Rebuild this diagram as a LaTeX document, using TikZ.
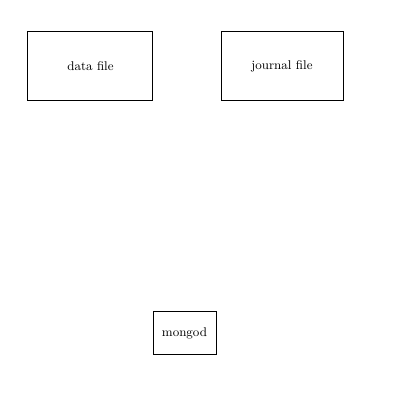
\documentclass[tikz,border=0pt]{standalone}
\usepackage{tikz}

\begin{document}
\begin{tikzpicture}
  \tikzstyle{file} = [rectangle, draw, fill=white, minimum height = 17.25mm, line width = 0.25mm, font=\small]
  \tikzstyle{process} = [rectangle, draw, fill=white, minimum height = 10.75mm, minimum width = 15.75mm, line width = 0.25mm, font=\small]

  \useasboundingbox (0,0) rectangle (10.15,10);

  \node [file, minimum width = 31.25mm] at (2.2625, 8.3375) (data) {data file};
  \node [file, minimum width = 30.5mm] at (7.05, 8.3375) (journal) {journal file};
  \node [process] at (4.6125, 1.6625) (mongod) {mongod};
\end{tikzpicture}
\end{document}
